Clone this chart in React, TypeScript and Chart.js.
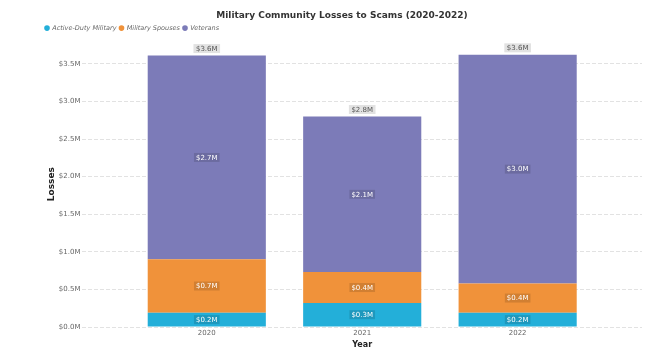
import React, { useEffect, useRef } from "react";
import { Chart, registerables } from "chart.js";

Chart.register(...registerables);

const years = [2020, 2021, 2022];
const activeDuty = [0.19, 0.32, 0.19];
const spouses = [0.71, 0.41, 0.39];
const veterans = [2.71, 2.07, 3.04];
const seriesNames = ["Active-Duty Military", "Military Spouses", "Veterans"];
const seriesColors = ["#23afd9", "#f0923a", "#7c7bb8"];
const titleText = "Military Community Losses to Scams (2020-2022)";

const FONT = '"DejaVu Sans", Verdana, sans-serif';

const fmt = (v: number) => "$" + (Math.round(v * 10) / 10).toFixed(1) + "M";

const valueLabels = {
  id: "valueLabels",
  afterDatasetsDraw(chart: any) {
    const ctx = chart.ctx;
    ctx.save();
    ctx.font = "7px " + FONT;
    ctx.textAlign = "center";
    ctx.textBaseline = "middle";
    const n = chart.data.datasets.length;
    chart.data.datasets.forEach((ds: any, di: number) => {
      const meta = chart.getDatasetMeta(di);
      meta.data.forEach((bar: any, i: number) => {
        const p = bar.getProps(["x", "y", "base"], true);
        const v = ds.data[i].y;
        const text = fmt(v);
        const cy = (p.y + p.base) / 2;
        const w = ctx.measureText(text).width + 4;
        const h = 9;
        ctx.fillStyle = "rgba(0,0,0,0.13)";
        ctx.fillRect(p.x - w / 2, cy - h / 2, w, h);
        ctx.fillStyle = "#ffffff";
        ctx.fillText(text, p.x, cy + 0.5);
      });
    });
    const last = chart.getDatasetMeta(n - 1);
    last.data.forEach((bar: any, i: number) => {
      const p = bar.getProps(["x", "y"], true);
      let total = 0;
      chart.data.datasets.forEach((ds: any) => (total += ds.data[i].y));
      const text = fmt(total);
      const cy = p.y - 7;
      const w = ctx.measureText(text).width + 5;
      const h = 9;
      ctx.fillStyle = "#e2e2e2";
      ctx.fillRect(p.x - w / 2, cy - h / 2, w, h);
      ctx.fillStyle = "#555555";
      ctx.fillText(text, p.x, cy + 0.5);
    });
    ctx.restore();
  },
};

export default function App() {
  const ref = useRef<HTMLCanvasElement>(null);
  useEffect(() => {
    if (!ref.current) return;
    const series = [activeDuty, spouses, veterans];
    const chart = new Chart(ref.current, {
      type: "bar",
      data: {
        datasets: series.map((arr, si) => ({
          label: seriesNames[si],
          data: years.map((yr, i) => ({ x: yr, y: arr[i] })),
          backgroundColor: seriesColors[si],
          borderWidth: 0,
          barPercentage: 0.76,
          categoryPercentage: 1,
        })),
      },
      options: {
        animation: false,
        responsive: true,
        maintainAspectRatio: false,
        layout: { padding: { left: 42, right: 28, top: 5, bottom: 0 } },
        plugins: {
          title: {
            display: true,
            text: titleText,
            color: "#333333",
            font: { family: FONT, size: 9, weight: "bold" },
            padding: { top: 5, bottom: 1 },
          },
          legend: {
            display: true,
            position: "top",
            align: "start",
            labels: {
              usePointStyle: true,
              pointStyle: "circle",
              boxWidth: 4,
              boxHeight: 4,
              padding: 3,
              color: "#666666",
              font: { family: FONT, size: 6.5, style: "italic" },
            },
          },
          tooltip: { enabled: false },
        },
        scales: {
          x: {
            type: "linear",
            stacked: true,
            offset: false,
            min: 2019.2,
            max: 2022.8,
            grid: { display: false, drawTicks: false, offset: false },
            border: { display: false },
            ticks: {
              stepSize: 1,
              includeBounds: false,
              padding: 2,
              color: "#666666",
              font: { family: FONT, size: 7 },
              callback: (v: any) => String(v),
            },
            title: {
              display: true,
              text: "Year",
              color: "#222222",
              font: { family: FONT, size: 8, weight: "bold" },
              padding: { top: 1, bottom: 0 },
            },
          },
          y: {
            stacked: true,
            min: 0,
            max: 3.8,
            grid: {
              color: "#e2e2e2",
              drawTicks: false,
            },
            border: { display: false, dash: [4, 2] },
            ticks: {
              stepSize: 0.5,
              includeBounds: false,
              padding: 2,
              color: "#666666",
              font: { family: FONT, size: 7 },
              callback: (v: any) => fmt(Number(v)),
            },
            title: {
              display: true,
              text: "Losses",
              color: "#222222",
              font: { family: FONT, size: 9, weight: "bold" },
              padding: { top: 4, bottom: 0 },
            },
          },
        },
      },
      plugins: [valueLabels],
    } as any);
    return () => chart.destroy();
  }, []);
  return (
    <div style={{ position: "absolute", left: 0, top: 0, width: 670, height: 350, background: "#fff" }}>
      <canvas ref={ref} />
    </div>
  );
}
